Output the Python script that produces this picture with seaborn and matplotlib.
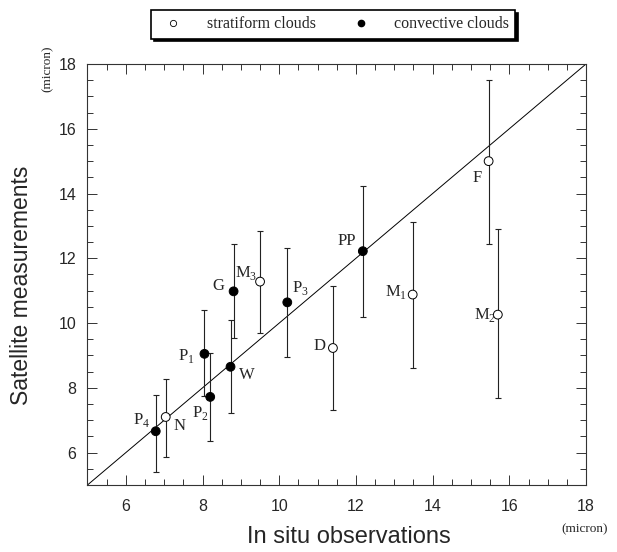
import matplotlib
matplotlib.use("Agg")
import matplotlib.pyplot as plt
from matplotlib.lines import Line2D
import seaborn as sns
import pandas as pd

# effective radius: in situ vs satellite (micron)
sites = ['P4', 'N', 'P1', 'P2', 'W', 'G', 'M3', 'P3', 'D', 'PP', 'M1', 'F', 'M2']
cloud_type = ['convective', 'stratiform', 'convective', 'convective', 'convective',
              'convective', 'stratiform', 'convective', 'stratiform', 'convective',
              'stratiform', 'stratiform', 'stratiform']
in_situ = [6.78, 7.04, 8.05, 8.20, 8.73, 8.81, 9.50, 10.21, 11.40, 12.18, 13.48, 15.46, 15.70]
satellite = [6.66, 7.10, 9.05, 7.72, 8.65, 10.98, 11.28, 10.64, 9.23, 12.22, 10.88, 15.00, 10.26]
sat_low = [5.40, 5.85, 7.74, 6.36, 7.21, 9.54, 9.69, 8.95, 7.33, 10.19, 8.61, 12.43, 7.68]
sat_high = [7.79, 8.26, 10.39, 9.08, 10.10, 12.43, 12.84, 12.31, 11.13, 14.23, 13.13, 17.52, 12.89]

df = pd.DataFrame({'site': sites, 'type': cloud_type, 'x': in_situ, 'y': satellite,
                   'lo': sat_low, 'hi': sat_high})

# label offsets in points (label placement only)
label_off = {'P4': (-10, 8), 'N': (10, -6.5), 'P1': (-13, -1.5), 'P2': (-7, -11.5),
             'W': (12, -6), 'G': (-11, 4), 'M3': (-10, 6.5), 'P3': (9.5, 10),
             'D': (-9.5, 1.5), 'PP': (-11.5, 7), 'M1': (-12, 2), 'F': (-8, -12),
             'M2': (-9.5, 0)}

sns.set_style('ticks')
plt.rcParams['font.family'] = ['Liberation Sans', 'DejaVu Sans']
plt.rcParams['mathtext.fontset'] = 'custom'
plt.rcParams['mathtext.rm'] = 'Liberation Serif'

fig = plt.figure(figsize=(6.17, 5.52), dpi=100)
ax = fig.add_axes([0.1418, 0.1214, 0.8080, 0.7627])

# 1:1 line
ax.plot([5, 18], [5, 18], color='black', lw=0.7, zorder=1)

# error bars
ax.errorbar(df['x'], df['y'], yerr=[df['y'] - df['lo'], df['hi'] - df['y']],
            fmt='none', ecolor='#222222', elinewidth=0.8, capsize=2.5, capthick=0.8,
            zorder=2)

sns.scatterplot(data=df, x='x', y='y', hue='type',
                palette={'stratiform': 'white', 'convective': 'black'},
                edgecolor='black', linewidth=0.7, s=40, legend=False, zorder=3, ax=ax)

for s, xv, yv in zip(sites, in_situ, satellite):
    if len(s) == 2 and s[1].isdigit():
        txt = s[0] + r'$_\mathregular{' + s[1] + '}$'
    else:
        txt = s
    ax.annotate(txt, (xv, yv), xytext=label_off[s], textcoords='offset points',
                ha='center', va='center', fontsize=12, family='Liberation Serif')

ax.set_xlim(5, 18)
ax.set_ylim(5, 18)
ax.set_xticks([6, 8, 10, 12, 14, 16, 18])
ax.set_yticks([6, 8, 10, 12, 14, 16, 18])
ax.set_xticks([x / 2 for x in range(10, 37)], minor=True)
ax.set_yticks([x / 2 for x in range(10, 37)], minor=True)
ax.tick_params(which='both', direction='in', top=True, right=True, width=0.7,
               color='#333333')
ax.tick_params(which='major', length=7, labelsize=11.5)
ax.tick_params(which='minor', length=4)
ax.tick_params(axis='x', pad=10)
ax.tick_params(axis='y', pad=8)
for sp in ax.spines.values():
    sp.set_linewidth(0.8)
    sp.set_color('#333333')

ax.set_xlabel('In situ observations', fontsize=17)
ax.set_ylabel('Satellite measurements', fontsize=16.5)
ax.xaxis.set_label_coords(0.525, -0.098)
ax.yaxis.set_label_coords(-0.11, 0.475)
fig.text(0.948, 0.042, '(micron)', fontsize=9.5, family='Liberation Serif',
         ha='center', va='center')
fig.text(0.078, 0.875, '(micron)', fontsize=9.5, family='Liberation Serif',
         ha='center', va='center', rotation=90)

handles = [Line2D([], [], marker='o', ls='none', markerfacecolor='white',
                  markeredgecolor='black', markersize=4.5, markeredgewidth=0.6),
           Line2D([], [], marker='o', ls='none', markerfacecolor='black',
                  markeredgecolor='black', markersize=4.5)]
leg = fig.legend(handles, ['stratiform clouds', 'convective clouds'], ncol=2,
                 loc='center', bbox_to_anchor=(0.54, 0.956), frameon=True,
                 fancybox=False, shadow={'color': 'black', 'alpha': 1},
                 edgecolor='black', handletextpad=1.1, columnspacing=1.8,
                 borderpad=0.4, prop={'family': 'Liberation Serif', 'size': 11.5})
leg.get_frame().set_linewidth(1.2)

fig.savefig('out.png', dpi=100)
